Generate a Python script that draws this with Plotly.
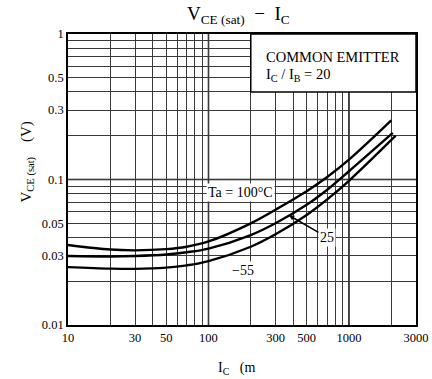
import numpy as np
import plotly.graph_objects as go

# ---- data ----
ic_100 = [10, 20, 30, 50, 70, 100, 200, 300, 500, 700, 1000, 2000]
vce_100 = [0.0355, 0.0330, 0.0326, 0.0332, 0.0345, 0.0375, 0.050, 0.062, 0.083, 0.104, 0.137, 0.255]

ic_25 = [10, 20, 30, 50, 70, 100, 200, 300, 500, 700, 1000, 2050]
vce_25 = [0.0298, 0.0296, 0.0298, 0.0305, 0.0316, 0.0335, 0.0415, 0.050, 0.067, 0.085, 0.114, 0.209]

ic_m55 = [10, 20, 30, 50, 70, 100, 200, 300, 500, 700, 1000, 2150]
vce_m55 = [0.0250, 0.0244, 0.0243, 0.0248, 0.0257, 0.0275, 0.0345, 0.042, 0.057, 0.073, 0.098, 0.200]

x_tick_vals = [10, 30, 50, 100, 300, 500, 1000, 3000]
x_tick_text = ["10", "30", "50", "100", "300", "500", "1000", "3000"]
y_tick_vals = [0.01, 0.03, 0.05, 0.1, 0.3, 0.5, 1]
y_tick_text = ["0.01", "0.03", "0.05", "0.1", "0.3", "0.5", "1"]

x_grid = [m * d for d in (10, 100, 1000) for m in range(1, 10)] + [2000, 3000]
y_grid = [m * d for d in (0.01, 0.1) for m in range(1, 10)]
x_decades = [100, 1000]
y_decades = [0.1]

FONT = "Liberation Serif"

fig = go.Figure()
for xs, ys in ((ic_100, vce_100), (ic_25, vce_25), (ic_m55, vce_m55)):
    fig.add_trace(go.Scatter(x=xs, y=ys, mode="lines",
                             line=dict(color="black", width=2.4, shape="spline", smoothing=1.0),
                             showlegend=False, hoverinfo="skip"))

# darker decade grid lines
for xv in x_decades:
    fig.add_shape(type="line", xref="x", yref="paper", x0=xv, x1=xv, y0=0, y1=1,
                  line=dict(color="#111111", width=1.5), layer="between")
for yv in y_decades:
    fig.add_shape(type="line", xref="paper", yref="y", x0=0, x1=1, y0=yv, y1=yv,
                  line=dict(color="#111111", width=1.5), layer="between")

# white box with condition text
fig.add_shape(type="rect", xref="x", yref="y", x0=200, x1=3000, y0=0.4, y1=1,
              fillcolor="white", line=dict(color="black", width=1.5), layer="above")

fig.update_xaxes(type="log", range=[1, np.log10(3000)], tickmode="array", tickvals=x_tick_vals, ticktext=x_tick_text,
                 showgrid=False, ticks="", showline=True, linecolor="black", linewidth=1.8, mirror=True,
                 tickfont=dict(family=FONT, size=12.5, color="black"), automargin=False,
                 minor=dict(tickmode="array", tickvals=x_grid, showgrid=True, gridcolor="#3a3a3a", gridwidth=1, ticks=""))
fig.update_yaxes(type="log", range=[-2, 0], tickmode="array", tickvals=y_tick_vals, ticktext=y_tick_text,
                 showgrid=False, ticks="", showline=True, linecolor="black", linewidth=1.8, mirror=True,
                 tickfont=dict(family=FONT, size=12.5, color="black"), automargin=False,
                 minor=dict(tickmode="array", tickvals=y_grid, showgrid=True, gridcolor="#3a3a3a", gridwidth=1, ticks=""))

anns = []
anns.append(dict(text="V<sub>CE (sat)</sub>  −  I<sub>C</sub>", xref="paper", yref="paper", x=0.5, y=1,
                 xshift=-4, yanchor="bottom", yshift=5, showarrow=False, font=dict(family=FONT, size=19, color="black")))
anns.append(dict(text="V<sub>CE (sat)</sub>    (V)", xref="paper", yref="paper", x=0, y=0.5,
                 xanchor="center", yanchor="middle", xshift=-41, yshift=17,
                 textangle=-90, showarrow=False, font=dict(family=FONT, size=15, color="black")))
anns.append(dict(text="I<sub>C</sub>   (m", xref="paper", yref="paper", x=0.5, y=0, xanchor="center", xshift=-6,
                 yanchor="middle", yshift=-43, showarrow=False, font=dict(family=FONT, size=14, color="black")))
anns.append(dict(text="COMMON EMITTER", xref="x", yref="y", x=np.log10(250), y=np.log10(0.695),
                 xanchor="left", showarrow=False, font=dict(family=FONT, size=14.5, color="black")))
anns.append(dict(text="I<sub>C</sub> / I<sub>B</sub> = 20", xref="x", yref="y", x=np.log10(250), y=np.log10(0.525),
                 xanchor="left", showarrow=False, font=dict(family=FONT, size=14.5, color="black")))
anns.append(dict(text="Ta = 100°C", xref="x", yref="y", x=np.log10(170), y=np.log10(0.081),
                 showarrow=False, bgcolor="white", font=dict(family=FONT, size=14, color="black")))
# "25" leader to the middle curve
x_pt = 374
y_pt = 10 ** np.interp(np.log10(x_pt), np.log10(ic_25), np.log10(vce_25))
anns.append(dict(text="25", xref="x", yref="y", x=np.log10(x_pt), y=np.log10(y_pt), ax=38, ay=22,
                 showarrow=True, arrowhead=2, arrowsize=0.7, arrowwidth=1.5, arrowcolor="black",
                 bgcolor="white", font=dict(family=FONT, size=14, color="black")))
anns.append(dict(text="−55", xref="x", yref="y", x=np.log10(176), y=np.log10(0.0238),
                 showarrow=False, bgcolor="white", font=dict(family=FONT, size=14, color="black")))

fig.update_layout(width=432, height=379, margin=dict(l=68, r=16, t=34, b=54),
                  paper_bgcolor="white", plot_bgcolor="white", annotations=anns,
                  font=dict(family=FONT, color="black"))

# remove the browser's default 8px body margin so the figure fills the window exactly
fig.write_html("out.html", config={"displayModeBar": False, "staticPlot": True},
               post_script="document.body.style.margin='0';document.body.style.overflow='hidden';")
